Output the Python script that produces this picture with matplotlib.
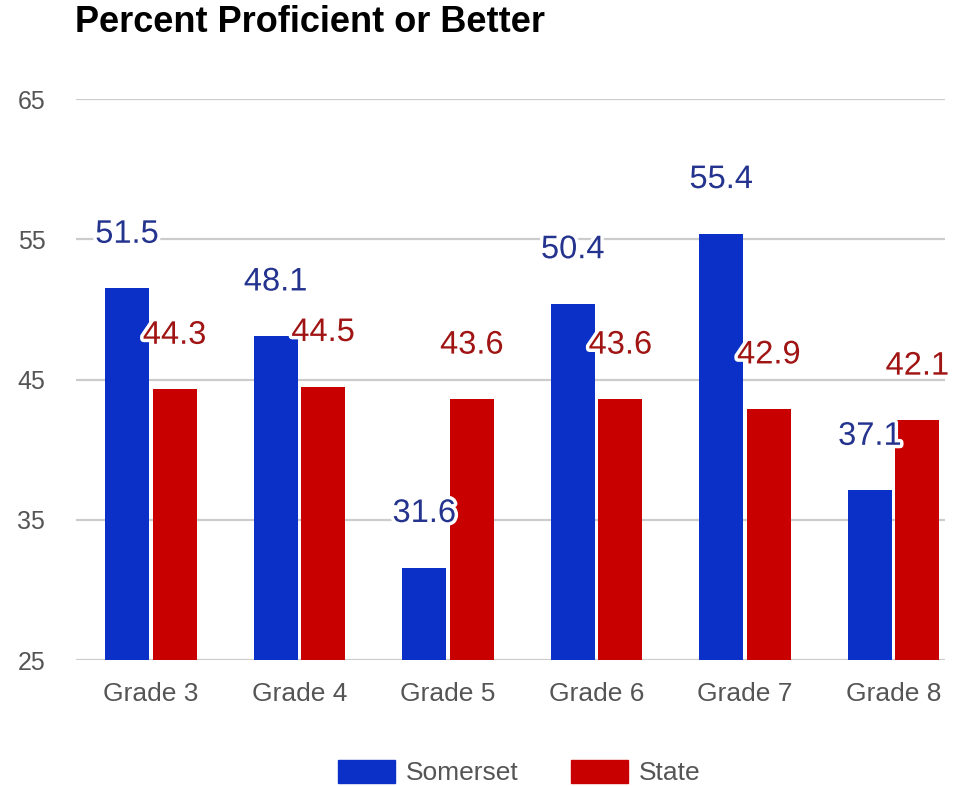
import matplotlib.pyplot as plt
import matplotlib.patheffects as pe
from matplotlib.patches import Patch
import numpy as np

plt.rcParams['font.family'] = ['Liberation Sans', 'DejaVu Sans']

grades = ["Grade 3", "Grade 4", "Grade 5", "Grade 6", "Grade 7", "Grade 8"]
somerset = [51.5, 48.1, 31.6, 50.4, 55.4, 37.1]
state = [44.3, 44.5, 43.6, 43.6, 42.9, 42.1]
yticks = [25, 35, 45, 55, 65]

blue = "#0a30c8"
red = "#c80000"

fig = plt.figure(figsize=(9.61, 7.86), dpi=100)
ax = fig.add_axes([0.079, 0.160, 0.904, 0.714])

x = np.arange(len(grades))
w = 0.296
off = 0.16
ax.bar(x - off, somerset, w, bottom=0, color=blue, zorder=3)
ax.bar(x + off, state, w, bottom=0, color=red, zorder=3)

ax.set_ylim(25, 65)
ax.set_xlim(-0.505, 5.343)
ax.set_yticks(yticks)
ax.set_xticks(x)
ax.set_xticklabels(grades)
ax.tick_params(axis='y', length=0, pad=22, labelsize=18, labelcolor="#555555")
ax.tick_params(axis='x', length=0, pad=16, labelsize=19, labelcolor="#555555")
ax.grid(axis='y', color="#cccccc", linewidth=1.6, zorder=0)
for s in ax.spines.values():
    s.set_visible(False)

# etiquetas de valor con borde blanco
halo = [pe.withStroke(linewidth=5, foreground="white")]
for i in range(len(grades)):
    ax.annotate(f"{somerset[i]}", (x[i] - off, somerset[i]), xytext=(0, 39),
                textcoords="offset points", ha="center", va="center",
                fontsize=23.5, color="#24338e", path_effects=halo, zorder=5)
    ax.annotate(f"{state[i]}", (x[i] + off, state[i]), xytext=(0, 39),
                textcoords="offset points", ha="center", va="center",
                fontsize=23.5, color="#a01414", path_effects=halo, zorder=5)

fig.text(0.078, 0.972, "Percent Proficient or Better", fontsize=26,
         fontweight="bold", ha="left", va="center")

handles = [Patch(color=blue, label="Somerset"), Patch(color=red, label="State")]
fig.legend(handles=handles, loc="center", bbox_to_anchor=(0.54, 0.017),
           ncol=2, frameon=False, fontsize=19, handlelength=2.16,
           handleheight=0.95, handletextpad=0.4, columnspacing=2.0,
           labelcolor="#555555")

fig.savefig("out.png", dpi=100)
